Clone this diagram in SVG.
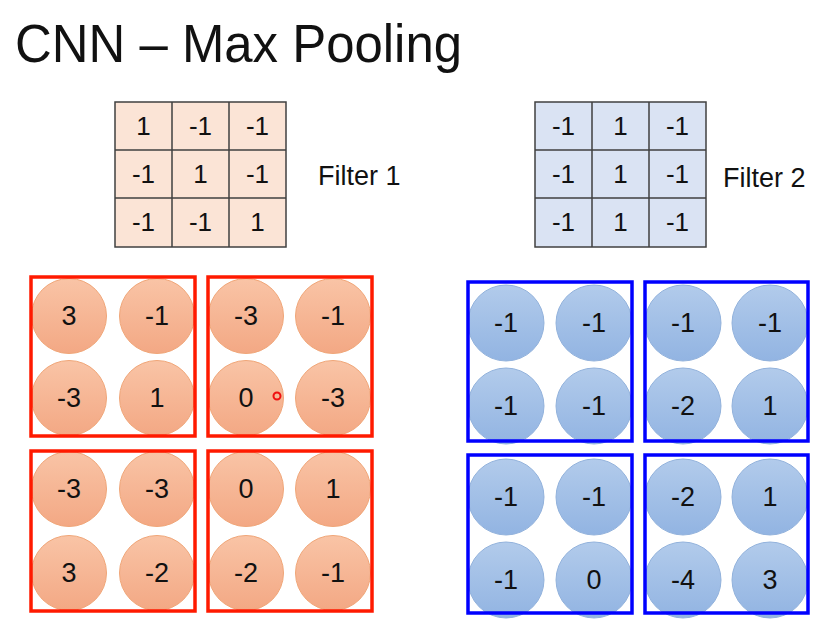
<svg xmlns="http://www.w3.org/2000/svg" width="836" height="640" viewBox="0 0 836 640">
<defs>
<linearGradient id="go" x1="0" y1="0" x2="0" y2="1"><stop offset="0" stop-color="#f9c4a6"/><stop offset="1" stop-color="#f3a884"/></linearGradient>
<linearGradient id="gb" x1="0" y1="0" x2="0" y2="1"><stop offset="0" stop-color="#b2cbeb"/><stop offset="1" stop-color="#92b4e2"/></linearGradient>
<style>
text{font-family:"Liberation Sans",Arial,sans-serif;fill:#111;}
.cell{font-size:26px;text-anchor:middle;}
.num{font-size:27px;text-anchor:middle;}
.lbl{font-size:27px;}
.fo{fill:#fbe4d6;stroke:#404040;stroke-width:1.5;}
.fb{fill:#dae3f3;stroke:#404040;stroke-width:1.5;}
.gl{stroke:#404040;stroke-width:1.5;}
.co{fill:url(#go);stroke:#f0a678;stroke-width:1;}
.cb{fill:url(#gb);stroke:#92b2dc;stroke-width:1;}
.rb{fill:none;stroke:#ff1a00;stroke-width:3.5;}
.bb{fill:none;stroke:#0000ff;stroke-width:3.5;}
</style>
</defs>
<rect width="836" height="640" fill="#fff"/>
<text x="15" y="62" font-size="54" textLength="447" lengthAdjust="spacingAndGlyphs">CNN – Max Pooling</text>

<g id="filter1">
<rect class="fo" x="115" y="102" width="171" height="145"/>
<path class="gl" d="M172 102V247M229 102V247M115 150H286M115 198H286"/>
<text class="cell" x="143.5" y="135">1</text><text class="cell" x="200.5" y="135">-1</text><text class="cell" x="257.5" y="135">-1</text>
<text class="cell" x="143.5" y="183">-1</text><text class="cell" x="200.5" y="183">1</text><text class="cell" x="257.5" y="183">-1</text>
<text class="cell" x="143.5" y="231">-1</text><text class="cell" x="200.5" y="231">-1</text><text class="cell" x="257.5" y="231">1</text>
<text class="lbl" x="318" y="185">Filter 1</text>
</g>

<g id="filter2">
<rect class="fb" x="535" y="102" width="171" height="145"/>
<path class="gl" d="M592 102V247M649 102V247M535 150H706M535 198H706"/>
<text class="cell" x="563.5" y="135">-1</text><text class="cell" x="620.5" y="135">1</text><text class="cell" x="677.5" y="135">-1</text>
<text class="cell" x="563.5" y="183">-1</text><text class="cell" x="620.5" y="183">1</text><text class="cell" x="677.5" y="183">-1</text>
<text class="cell" x="563.5" y="231">-1</text><text class="cell" x="620.5" y="231">1</text><text class="cell" x="677.5" y="231">-1</text>
<text class="lbl" x="723" y="187">Filter 2</text>
</g>

<g id="red-pool">
<circle class="co" cx="69" cy="316" r="37.5"/><circle class="co" cx="157" cy="316" r="37.5"/>
<circle class="co" cx="69" cy="398" r="37.5"/><circle class="co" cx="157" cy="398" r="37.5"/>
<circle class="co" cx="246" cy="316" r="37.5"/><circle class="co" cx="333" cy="316" r="37.5"/>
<circle class="co" cx="246" cy="398" r="37.5"/><circle class="co" cx="333" cy="398" r="37.5"/>
<circle class="co" cx="69" cy="489" r="37.5"/><circle class="co" cx="157" cy="489" r="37.5"/>
<circle class="co" cx="69" cy="573" r="37.5"/><circle class="co" cx="157" cy="573" r="37.5"/>
<circle class="co" cx="246" cy="489" r="37.5"/><circle class="co" cx="333" cy="489" r="37.5"/>
<circle class="co" cx="246" cy="573" r="37.5"/><circle class="co" cx="333" cy="573" r="37.5"/>
<text class="num" x="69" y="325">3</text><text class="num" x="157" y="325">-1</text>
<text class="num" x="69" y="407">-3</text><text class="num" x="157" y="407">1</text>
<text class="num" x="246" y="325">-3</text><text class="num" x="333" y="325">-1</text>
<text class="num" x="246" y="407">0</text><text class="num" x="333" y="407">-3</text>
<text class="num" x="69" y="498">-3</text><text class="num" x="157" y="498">-3</text>
<text class="num" x="69" y="582">3</text><text class="num" x="157" y="582">-2</text>
<text class="num" x="246" y="498">0</text><text class="num" x="333" y="498">1</text>
<text class="num" x="246" y="582">-2</text><text class="num" x="333" y="582">-1</text>
<rect class="rb" x="31" y="277" width="164" height="159"/>
<rect class="rb" x="208" y="277" width="164" height="159"/>
<rect class="rb" x="31" y="451" width="164" height="160"/>
<rect class="rb" x="208" y="451" width="164" height="160"/>
<circle cx="277" cy="396" r="3.5" fill="none" stroke="#f01010" stroke-width="2"/>
</g>

<g id="blue-pool">
<circle class="cb" cx="506" cy="323" r="38"/><circle class="cb" cx="594" cy="323" r="38"/>
<circle class="cb" cx="506" cy="406" r="38"/><circle class="cb" cx="594" cy="406" r="38"/>
<circle class="cb" cx="683" cy="323" r="38"/><circle class="cb" cx="770" cy="323" r="38"/>
<circle class="cb" cx="683" cy="406" r="38"/><circle class="cb" cx="770" cy="406" r="38"/>
<circle class="cb" cx="506" cy="497" r="38"/><circle class="cb" cx="594" cy="497" r="38"/>
<circle class="cb" cx="506" cy="580" r="38"/><circle class="cb" cx="594" cy="580" r="38"/>
<circle class="cb" cx="683" cy="497" r="38"/><circle class="cb" cx="770" cy="497" r="38"/>
<circle class="cb" cx="683" cy="580" r="38"/><circle class="cb" cx="770" cy="580" r="38"/>
<text class="num" x="506" y="332">-1</text><text class="num" x="594" y="332">-1</text>
<text class="num" x="506" y="415">-1</text><text class="num" x="594" y="415">-1</text>
<text class="num" x="683" y="332">-1</text><text class="num" x="770" y="332">-1</text>
<text class="num" x="683" y="415">-2</text><text class="num" x="770" y="415">1</text>
<text class="num" x="506" y="506">-1</text><text class="num" x="594" y="506">-1</text>
<text class="num" x="506" y="589">-1</text><text class="num" x="594" y="589">0</text>
<text class="num" x="683" y="506">-2</text><text class="num" x="770" y="506">1</text>
<text class="num" x="683" y="589">-4</text><text class="num" x="770" y="589">3</text>
<rect class="bb" x="468" y="282" width="164" height="159"/>
<rect class="bb" x="645" y="282" width="163" height="159"/>
<rect class="bb" x="468" y="455" width="164" height="158"/>
<rect class="bb" x="645" y="455" width="163" height="158"/>
</g>
<g id="connectors"/>
</svg>
